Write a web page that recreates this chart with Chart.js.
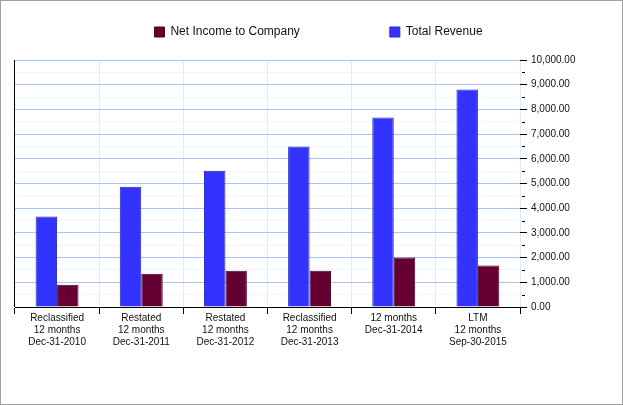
<!DOCTYPE html>
<html>
<head>
<meta charset="utf-8">
<script src="https://cdn.jsdelivr.net/npm/chart.js@4/dist/chart.umd.min.js"></script>
<style>
  body { margin: 0; background: #fff; }
  #wrap { width: 621px; height: 403px; border: 1px solid #a0a0a0; position: relative; }
</style>
</head>
<body>
<div id="wrap"><canvas id="myChart"></canvas></div>
<script>
// chart data
const categories = [
  ['Reclassified', '12 months', 'Dec-31-2010'],
  ['Restated', '12 months', 'Dec-31-2011'],
  ['Restated', '12 months', 'Dec-31-2012'],
  ['Reclassified', '12 months', 'Dec-31-2013'],
  ['12 months', 'Dec-31-2014'],
  ['LTM', '12 months', 'Sep-30-2015'],
];
const totalRevenue = [3660, 4870, 5520, 6500, 7670, 8810];
const netIncome = [900, 1350, 1470, 1470, 2000, 1680];
const yMin = 0;
const yMax = 10000;
const yStep = 500;

const fmt = (v) => v.toLocaleString('en-US', { minimumFractionDigits: 2, maximumFractionDigits: 2 });

// short tick marks for the 500 steps on the right axis
const minorTicks = {
  id: 'minorTicks',
  afterDraw(chart) {
    const y = chart.scales.y;
    const ctx = chart.ctx;
    ctx.save();
    ctx.strokeStyle = '#000';
    ctx.lineWidth = 1;
    for (let v = yMin + yStep; v < yMax; v += 1000) {
      const py = Math.round(y.getPixelForValue(v)) + 0.5;
      ctx.beginPath();
      ctx.moveTo(y.left + 2, py);
      ctx.lineTo(y.left + 5, py);
      ctx.stroke();
    }
    ctx.restore();
  },
};

const canvas = document.getElementById('myChart');

const chart = new Chart(canvas, {
  type: 'bar',
  data: {
    labels: categories,
    datasets: [
      {
        label: 'Total Revenue',
        data: totalRevenue,
        backgroundColor: '#3333ff',
        borderColor: '#2626c4',
        borderWidth: 1,
      },
      {
        label: 'Net Income to Company',
        data: netIncome,
        backgroundColor: '#660033',
        borderColor: '#4a0026',
        borderWidth: 1,
      },
    ],
  },
  options: {
    responsive: true,
    maintainAspectRatio: false,
    animation: false,
    categoryPercentage: 0.51,
    barPercentage: 1.0,
    layout: {
      padding: { left: 14, right: 0, top: -65, bottom: 0 },
    },
    plugins: {
      legend: {
        position: 'top',
        labels: {
          boxWidth: 10,
          boxHeight: 10,
          padding: 90,
          color: '#111',
          font: { family: '"Liberation Sans", Arial, sans-serif', size: 12 },
          sort: (a, b) => b.datasetIndex - a.datasetIndex,
        },
      },
      tooltip: { enabled: false },
    },
    scales: {
      x: {
        grid: {
          offset: true,
          color: (c) => (c.index === 0 ? '#000' : c.index === categories.length ? 'rgba(0,0,0,0)' : '#dfe8fb'),
          tickColor: '#000',
          tickLength: 7,
        },
        border: { display: true, color: '#000', width: 1 },
        ticks: {
          color: '#111',
          maxRotation: 0,
          autoSkip: false,
          padding: -2,
          font: { family: '"Liberation Sans", Arial, sans-serif', size: 10, lineHeight: 1.2 },
        },
        afterFit: (s) => { s.height = 97; },
      },
      xTop: {
        type: 'category',
        position: 'top',
        labels: [],
        grid: { display: false },
        border: { display: false },
        ticks: { display: false },
        afterFit: (s) => { s.height = 12; },
      },
      y: {
        position: 'right',
        min: yMin,
        max: yMax,
        grid: {
          color: (c) => {
            const v = c.tick.value;
            if (v === 0) return '#000';
            return v % 1000 === 0 ? '#a9c4f7' : '#eef3fc';
          },
          tickColor: (c) => (c.tick.value % 1000 === 0 ? '#000' : 'rgba(0,0,0,0)'),
          tickLength: 7,
        },
        border: { display: false },
        ticks: {
          stepSize: yStep,
          autoSkip: false,
          padding: 4,
          color: '#111',
          font: { family: '"Liberation Sans", Arial, sans-serif', size: 10 },
          callback: (v) => (v % 1000 === 0 ? fmt(v) : ''),
        },
        afterFit: (s) => { s.width = 102; },
      },
    },
  },
  plugins: [minorTicks],
});
</script>
</body>
</html>
